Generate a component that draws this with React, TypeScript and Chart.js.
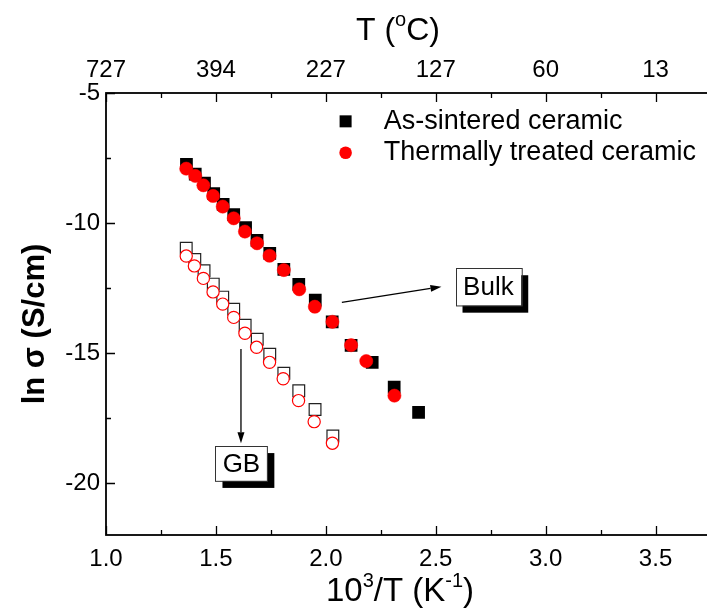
import React, { useEffect, useRef } from 'react';
import { Chart, registerables } from 'chart.js';

Chart.register(...registerables);

// ---- data ----
const bulkAsX = [1.366, 1.406, 1.448, 1.49, 1.533, 1.581, 1.635, 1.687, 1.745, 1.809, 1.877, 1.952, 2.029, 2.115, 2.211, 2.311, 2.422];
const bulkAsY = [-7.74, -8.12, -8.47, -8.87, -9.28, -9.68, -10.18, -10.67, -11.17, -11.78, -12.36, -12.97, -13.8, -14.71, -15.36, -16.31, -17.28];
const bulkTtX = [1.365, 1.406, 1.443, 1.487, 1.531, 1.581, 1.632, 1.687, 1.744, 1.809, 1.879, 1.95, 2.03, 2.115, 2.184, 2.312];
const bulkTtY = [-7.91, -8.19, -8.55, -8.96, -9.37, -9.82, -10.33, -10.78, -11.26, -11.81, -12.55, -13.22, -13.8, -14.7, -15.31, -16.64];
const gbAsX = [1.365, 1.404, 1.446, 1.488, 1.531, 1.581, 1.633, 1.688, 1.745, 1.809, 1.877, 1.951, 2.032];
const gbAsY = [-10.97, -11.4, -11.84, -12.35, -12.85, -13.32, -13.93, -14.47, -15.05, -15.78, -16.45, -17.17, -18.19];
const gbTtX = [1.365, 1.402, 1.443, 1.487, 1.531, 1.581, 1.632, 1.685, 1.744, 1.806, 1.876, 1.947, 2.03];
const gbTtY = [-11.27, -11.65, -12.13, -12.65, -13.12, -13.63, -14.24, -14.78, -15.36, -15.99, -16.83, -17.64, -18.47];

const xTickValues = [1.0, 1.5, 2.0, 2.5, 3.0, 3.5];
const tempLabels = ['727', '394', '227', '127', '60', '13'];
const yTickValues = [-20, -15, -10, -5];
const legendLabels = ['As-sintered ceramic', 'Thermally treated ceramic'];

const X_MIN = 1.0;
const X_MAX = 3.75;
const Y_MIN = -22;
const Y_MAX = -5;

const FONT = '"Liberation Sans", Arial, Helvetica, sans-serif';

type Seg = { t: string; sup?: boolean };

function segFont(size: number, bold: boolean, sup?: boolean) {
  return `${bold ? 'bold ' : ''}${sup ? Math.round(size * 0.62) : size}px ${FONT}`;
}

function richWidth(ctx: CanvasRenderingContext2D, segs: Seg[], size: number, bold: boolean) {
  let w = 0;
  for (const s of segs) {
    ctx.font = segFont(size, bold, s.sup);
    w += ctx.measureText(s.t).width;
  }
  return w;
}

function drawRich(ctx: CanvasRenderingContext2D, segs: Seg[], cx: number, cy: number, size: number, bold: boolean) {
  const w = richWidth(ctx, segs, size, bold);
  let x = cx - w / 2;
  const base = cy + size * 0.36;
  ctx.textAlign = 'left';
  ctx.textBaseline = 'alphabetic';
  ctx.fillStyle = '#000';
  for (const s of segs) {
    ctx.font = segFont(size, bold, s.sup);
    ctx.fillText(s.t, x, s.sup ? base - size * 0.42 : base);
    x += ctx.measureText(s.t).width;
  }
}

function drawArrow(ctx: CanvasRenderingContext2D, x1: number, y1: number, x2: number, y2: number) {
  const ang = Math.atan2(y2 - y1, x2 - x1);
  const hl = 11;
  const hw = 3.5;
  ctx.strokeStyle = '#000';
  ctx.lineWidth = 1.3;
  ctx.beginPath();
  ctx.moveTo(x1, y1);
  ctx.lineTo(x2 - hl * Math.cos(ang), y2 - hl * Math.sin(ang));
  ctx.stroke();
  ctx.fillStyle = '#000';
  ctx.beginPath();
  ctx.moveTo(x2, y2);
  ctx.lineTo(x2 - hl * Math.cos(ang) + hw * Math.sin(ang), y2 - hl * Math.sin(ang) - hw * Math.cos(ang));
  ctx.lineTo(x2 - hl * Math.cos(ang) - hw * Math.sin(ang), y2 - hl * Math.sin(ang) + hw * Math.cos(ang));
  ctx.closePath();
  ctx.fill();
}

function drawBox(ctx: CanvasRenderingContext2D, l: number, t: number, r: number, b: number, text: string, size: number) {
  const sh = 7;
  ctx.fillStyle = '#000';
  ctx.fillRect(l + sh, t + sh, r - l, b - t);
  ctx.fillStyle = '#fff';
  ctx.fillRect(l, t, r - l, b - t);
  ctx.strokeStyle = '#333';
  ctx.lineWidth = 1;
  ctx.strokeRect(Math.round(l) + 0.5, Math.round(t) + 0.5, r - l, b - t);
  ctx.fillStyle = '#000';
  ctx.font = `${size}px ${FONT}`;
  ctx.textAlign = 'center';
  ctx.textBaseline = 'middle';
  ctx.fillText(text, (l + r) / 2, (t + b) / 2 + 1);
}

const overlayPlugin = {
  id: 'overlay',
  afterDraw(chart: any) {
    const ctx: CanvasRenderingContext2D = chart.ctx;
    const { left, right, top, bottom } = chart.chartArea;
    const xs = chart.scales.x;
    const ys = chart.scales.y;
    const px = (v: number) => xs.getPixelForValue(v);
    const py = (v: number) => ys.getPixelForValue(v);
    ctx.save();

    // frame
    ctx.strokeStyle = '#000';
    ctx.lineWidth = 1.8;
    ctx.strokeRect(left, top, right - left, bottom - top);

    // inward ticks
    ctx.lineWidth = 1.3;
    ctx.beginPath();
    for (let i = 0; X_MIN + i * 0.25 <= X_MAX + 1e-9; i++) {
      const v = X_MIN + i * 0.25;
      const len = i % 2 === 0 ? 9 : 5;
      const x = Math.round(px(v)) + 0.5;
      ctx.moveTo(x, bottom);
      ctx.lineTo(x, bottom - len);
      ctx.moveTo(x, top);
      ctx.lineTo(x, top + len);
    }
    for (let i = 0; Y_MAX - i * 2.5 >= Y_MIN - 1e-9; i++) {
      const v = Y_MAX - i * 2.5;
      const len = i % 2 === 0 ? 9 : 5;
      const y = Math.round(py(v)) + 0.5;
      ctx.moveTo(left, y);
      ctx.lineTo(left + len, y);
    }
    ctx.stroke();

    // axis titles
    drawRich(ctx, [{ t: '10' }, { t: '3', sup: true }, { t: '/T (K' }, { t: '-1', sup: true }, { t: ')' }], 400, 589, 33, false);
    drawRich(ctx, [{ t: 'T (' }, { t: 'o', sup: true }, { t: 'C)' }], 398, 28, 32, false);
    ctx.save();
    ctx.translate(33, 324);
    ctx.rotate(-Math.PI / 2);
    drawRich(ctx, [{ t: 'ln σ (S/cm)' }], 0, 0, 31, true);
    ctx.restore();

    // legend
    const lx = px(2.09);
    const ly1 = py(-6.09);
    const ly2 = py(-7.3);
    ctx.fillStyle = '#000';
    ctx.fillRect(lx - 6, ly1 - 6, 12, 12);
    ctx.fillStyle = '#ff0000';
    ctx.beginPath();
    ctx.arc(lx, ly2, 6.3, 0, Math.PI * 2);
    ctx.fill();
    ctx.fillStyle = '#000';
    ctx.font = `27px ${FONT}`;
    ctx.textAlign = 'left';
    ctx.textBaseline = 'middle';
    ctx.fillText(legendLabels[0], px(2.264), ly1);
    ctx.fillText(legendLabels[1], px(2.264), ly2);

    // annotations
    drawArrow(ctx, px(2.073), py(-13.05), px(2.526), py(-12.45));
    drawBox(ctx, px(2.59), py(-11.74), px(2.889), py(-13.18), 'Bulk', 26);
    drawArrow(ctx, px(1.614), py(-14.85), px(1.614), py(-18.47));
    drawBox(ctx, px(1.498), py(-18.58), px(1.734), py(-19.92), 'GB', 26);

    ctx.restore();
  },
};

const toPts = (xs: number[], ys: number[]) => xs.map((x, i) => ({ x, y: ys[i] }));

export default function App() {
  const ref = useRef<HTMLCanvasElement | null>(null);

  useEffect(() => {
    if (!ref.current) return;
    const tickFont = { family: FONT, size: 24 };
    const chart = new Chart(ref.current, {
      type: 'scatter',
      data: {
        datasets: [
          {
            label: 'Thermally treated ceramic (bulk)',
            data: toPts(bulkTtX, bulkTtY),
            pointStyle: 'circle',
            pointRadius: 6.6,
            backgroundColor: '#ff0000',
            borderColor: '#ff0000',
            borderWidth: 0.5,
            order: 0,
          },
          {
            label: 'As-sintered ceramic (bulk)',
            data: toPts(bulkAsX, bulkAsY),
            pointStyle: 'rect',
            pointRadius: 9,
            backgroundColor: '#000',
            borderColor: '#000',
            borderWidth: 0,
            order: 1,
          },
          {
            label: 'Thermally treated ceramic (GB)',
            data: toPts(gbTtX, gbTtY),
            pointStyle: 'circle',
            pointRadius: 6.1,
            backgroundColor: '#fff',
            borderColor: '#ff0000',
            borderWidth: 1.2,
            order: 2,
          },
          {
            label: 'As-sintered ceramic (GB)',
            data: toPts(gbAsX, gbAsY),
            pointStyle: 'rect',
            pointRadius: 8.3,
            backgroundColor: '#fff',
            borderColor: '#222',
            borderWidth: 1.2,
            order: 3,
          },
        ],
      },
      options: {
        animation: false,
        responsive: false,
        maintainAspectRatio: false,
        layout: { padding: { left: 0, right: 8, top: 0, bottom: 0 } },
        plugins: { legend: { display: false }, tooltip: { enabled: false } },
        scales: {
          x: {
            type: 'linear',
            position: 'bottom',
            min: X_MIN,
            max: X_MAX,
            grid: { display: false, drawTicks: false },
            border: { display: false },
            ticks: {
              font: tickFont,
              color: '#000',
              padding: 10,
              maxRotation: 0,
              autoSkip: false,
              callback: (v: any) => Number(v).toFixed(1),
            },
            afterBuildTicks: (s: any) => {
              s.ticks = xTickValues.map((v) => ({ value: v }));
            },
            afterFit: (s: any) => {
              s.height = 77;
            },
          },
          x2: {
            type: 'linear',
            position: 'top',
            min: X_MIN,
            max: X_MAX,
            grid: { display: false, drawTicks: false },
            border: { display: false },
            ticks: {
              font: tickFont,
              color: '#000',
              padding: 8,
              maxRotation: 0,
              autoSkip: false,
              callback: (v: any) => {
                const i = xTickValues.findIndex((t) => Math.abs(t - Number(v)) < 1e-6);
                return i >= 0 ? tempLabels[i] : '';
              },
            },
            afterBuildTicks: (s: any) => {
              s.ticks = xTickValues.map((v) => ({ value: v }));
            },
            afterFit: (s: any) => {
              s.height = 93;
            },
          },
          y: {
            type: 'linear',
            position: 'left',
            min: Y_MIN,
            max: Y_MAX,
            grid: { display: false, drawTicks: false },
            border: { display: false },
            ticks: {
              font: tickFont,
              color: '#000',
              padding: 6,
              autoSkip: false,
              callback: (v: any) => String(v),
            },
            afterBuildTicks: (s: any) => {
              s.ticks = yTickValues.map((v) => ({ value: v }));
            },
            afterFit: (s: any) => {
              s.width = 106;
            },
          },
        },
      },
      plugins: [overlayPlugin],
    } as any);
    return () => chart.destroy();
  }, []);

  return (
    <div style={{ position: 'fixed', left: 0, top: 0, width: 707, height: 612, overflow: 'hidden', background: '#fff' }}>
      <canvas ref={ref} width={720} height={612} style={{ display: 'block', width: 720, height: 612 }} />
    </div>
  );
}
